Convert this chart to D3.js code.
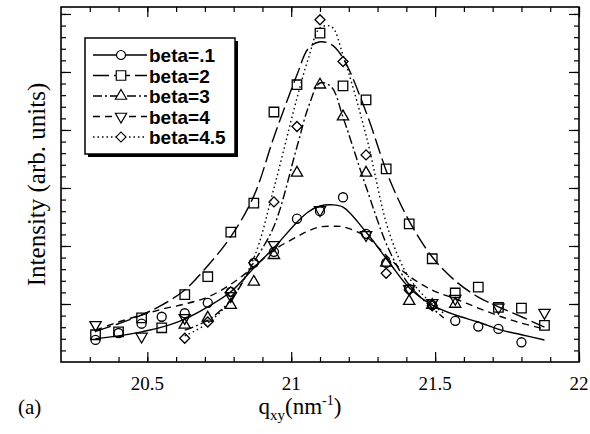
<!DOCTYPE html>
<html>
<head>
<meta charset="utf-8">
<script src="https://cdn.jsdelivr.net/npm/d3@7"></script>
<style>
  body { margin: 0; background: #fff; }
  svg { display: block; }
</style>
</head>
<body>
<div id="chart"></div>
<script>
// measured q positions (nm^-1)
const qValues = [20.32, 20.40, 20.48, 20.55, 20.63, 20.71, 20.79, 20.87, 20.94, 21.02,
  21.10, 21.18, 21.26, 21.33, 21.41, 21.49, 21.57, 21.65, 21.72, 21.80, 21.88];

// measured intensities (arb. units), null where no point
const beta01 = [0.38, 0.50, 0.66, 0.78, 0.84, 1.02, 1.21, 1.71, 1.90, 2.47,
  2.60, 2.84, 2.21, 1.71, 1.26, 0.98, 0.71, 0.61, 0.57, 0.34, null];
const beta2 = [0.47, 0.52, 0.76, 0.59, 1.16, 1.47, 2.24, 2.74, 4.31, 4.78,
  5.67, 4.76, 4.52, 3.33, 2.38, 1.78, 1.19, 1.29, 0.94, 0.93, 0.63];
const beta3 = [null, null, null, null, 0.64, 0.76, 0.98, 1.38, 1.84, 3.26,
  4.78, 4.23, 3.26, 1.71, 1.05, 0.98, 1.00, null, null, null, null];
const beta4 = [0.64, null, 0.44, null, 0.76, null, 1.14, null, 2.02, null,
  2.62, null, 2.19, null, 1.26, 1.02, 1.09, null, 0.94, null, 0.85];
const beta45 = [null, null, null, null, 0.41, 0.69, 1.21, 1.71, 2.76, 4.06,
  5.90, 5.18, 3.57, 1.53, 1.24, 0.97, null, null, null, null, null];

// fitted curves
const fitQ = [20.32, 20.40, 20.48, 20.55, 20.63, 20.71, 20.79, 20.87, 20.94, 21.02, 21.06, 21.10,
  21.14, 21.18, 21.26, 21.34, 21.41, 21.49, 21.57, 21.65, 21.73, 21.80, 21.88];
const fit01 = [0.40, 0.45, 0.52, 0.60, 0.74, 0.95, 1.21, 1.62, 1.97, 2.41, 2.59, 2.69,
  2.71, 2.67, 2.24, 1.72, 1.28, 0.98, 0.81, 0.69, 0.55, 0.47, 0.38];
const fit2 = [0.53, 0.66, 0.81, 0.98, 1.24, 1.66, 2.16, 2.86, 3.88, 4.95, 5.41, 5.52,
  5.47, 5.24, 4.31, 3.17, 2.43, 1.81, 1.40, 1.12, 0.93, 0.78, 0.60];
const fit4 = [0.55, 0.69, 0.81, 0.91, 1.00, 1.12, 1.34, 1.64, 1.93, 2.16, 2.26, 2.33,
  2.34, 2.33, 2.16, 1.79, 1.48, 1.24, 1.09, 0.93, 0.78, 0.67, 0.57];
const fitQNarrow = [20.63, 20.71, 20.79, 20.87, 20.94, 21.02, 21.06, 21.10, 21.14, 21.18,
  21.26, 21.34, 21.41, 21.49, 21.53];
const fit3 = [0.55, 0.72, 1.07, 1.72, 2.34, 3.71, 4.40, 4.81, 4.74, 4.22, 3.02, 1.93, 1.33, 0.93, 0.76];
const fit45 = [0.45, 0.67, 1.07, 1.79, 3.00, 4.55, 5.24, 5.76, 5.78, 5.29, 3.91, 2.24, 1.45, 1.00, 0.84];

const seriesNames = ["beta=.1", "beta=2", "beta=3", "beta=4", "beta=4.5"];
const xTicks = [20.5, 21, 21.5, 22];

const width = 590;
const height = 434;
const margin = { top: 7, right: 11, bottom: 72, left: 61 };
const serif = "'Times New Roman', 'Liberation Serif', 'DejaVu Serif', serif";
const sans = "Arial, 'Liberation Sans', Helvetica, sans-serif";

const series = [
  { name: seriesNames[0], q: qValues, values: beta01, fitQ: fitQ, fit: fit01, symbol: "circle", dash: null },
  { name: seriesNames[1], q: qValues, values: beta2, fitQ: fitQ, fit: fit2, symbol: "square", dash: "16,5" },
  { name: seriesNames[2], q: qValues, values: beta3, fitQ: fitQNarrow, fit: fit3, symbol: "triangle", dash: "9,3,2,3" },
  { name: seriesNames[3], q: qValues, values: beta4, fitQ: fitQ, fit: fit4, symbol: "triangleDown", dash: "7,5" },
  { name: seriesNames[4], q: qValues, values: beta45, fitQ: fitQNarrow, fit: fit45, symbol: "diamond", dash: "1.5,3" },
];

// Scales
const x = d3.scaleLinear()
  .domain([20.2, 22])
  .range([margin.left, width - margin.right]);
const y = d3.scaleLinear()
  .domain([0, 6.12])
  .range([height - margin.bottom, margin.top]);

const svg = d3.select("#chart")
  .append("svg")
  .attr("width", width)
  .attr("height", height);

// Ticks (all pointing inward)
const xMinor = d3.range(20.3, 22.001, 0.1).map((d) => +d.toFixed(1));
const yMinor = d3.range(0.2, 6.1, 0.2).map((d) => +d.toFixed(1));
const yMajor = d3.range(1, 7, 1).filter((d) => d < 6.12);

const axisStyle = (g) => g.call((g) => g.select(".domain").remove())
  .selectAll("line").attr("stroke", "#000").attr("stroke-width", 1.2);

svg.append("g")
  .attr("transform", `translate(0,${height - margin.bottom})`)
  .call(d3.axisBottom(x).tickValues(xMinor).tickSize(-5).tickFormat(""))
  .call(axisStyle);
svg.append("g")
  .attr("transform", `translate(0,${height - margin.bottom})`)
  .call(d3.axisBottom(x).tickValues(xTicks).tickSize(-10).tickFormat(""))
  .call(axisStyle);
svg.append("g")
  .attr("transform", `translate(0,${margin.top})`)
  .call(d3.axisTop(x).tickValues(xMinor).tickSize(-5).tickFormat(""))
  .call(axisStyle);
svg.append("g")
  .attr("transform", `translate(0,${margin.top})`)
  .call(d3.axisTop(x).tickValues(xTicks).tickSize(-10).tickFormat(""))
  .call(axisStyle);

svg.append("g")
  .attr("transform", `translate(${margin.left},0)`)
  .call(d3.axisLeft(y).tickValues(yMinor).tickSize(-5).tickFormat(""))
  .call(axisStyle);
svg.append("g")
  .attr("transform", `translate(${margin.left},0)`)
  .call(d3.axisLeft(y).tickValues(yMajor).tickSize(-10).tickFormat(""))
  .call(axisStyle);
svg.append("g")
  .attr("transform", `translate(${width - margin.right},0)`)
  .call(d3.axisRight(y).tickValues(yMinor).tickSize(-5).tickFormat(""))
  .call(axisStyle);
svg.append("g")
  .attr("transform", `translate(${width - margin.right},0)`)
  .call(d3.axisRight(y).tickValues(yMajor).tickSize(-10).tickFormat(""))
  .call(axisStyle);

// X tick labels
svg.append("g")
  .selectAll("text")
  .data(xTicks)
  .join("text")
  .attr("font-family", serif)
  .attr("font-size", 19)
  .attr("x", (d) => x(d))
  .attr("y", height - margin.bottom + 28)
  .attr("text-anchor", "middle")
  .text((d) => d);

// Frame
svg.append("rect")
  .attr("x", margin.left)
  .attr("y", margin.top)
  .attr("width", width - margin.left - margin.right)
  .attr("height", height - margin.top - margin.bottom)
  .attr("fill", "none")
  .attr("stroke", "#000")
  .attr("stroke-width", 1.6);

// Fit lines
const line = d3.line()
  .x((d) => x(d[0]))
  .y((d) => y(d[1]))
  .curve(d3.curveCatmullRom);

svg.append("g")
  .selectAll("path")
  .data(series)
  .join("path")
  .attr("fill", "none")
  .attr("stroke", "#000")
  .attr("stroke-width", 1.4)
  .attr("stroke-dasharray", (d) => d.dash)
  .attr("d", (d) => line(d.fitQ.map((q, i) => [q, d.fit[i]])));

// Markers
const symbolPath = {
  circle: d3.symbol(d3.symbolCircle, 64)(),
  square: d3.symbol(d3.symbolSquare, 90)(),
  triangle: d3.symbol(d3.symbolTriangle, 55)(),
  triangleDown: d3.symbol(d3.symbolTriangle, 55)(),
  diamond: d3.symbol(d3.symbolSquare, 50)(),
};
const symbolRotate = { circle: 0, square: 0, triangle: 0, triangleDown: 180, diamond: 45 };

const gPoints = svg.append("g");
series.forEach((s) => {
  const pts = s.q.map((q, i) => ({ q: q, v: s.values[i] })).filter((d) => d.v !== null);
  gPoints.append("g")
    .selectAll("path")
    .data(pts)
    .join("path")
    .attr("transform", (d) => `translate(${x(d.q)},${y(d.v)}) rotate(${symbolRotate[s.symbol]})`)
    .attr("d", symbolPath[s.symbol])
    .attr("fill", "none")
    .attr("stroke", "#000")
    .attr("stroke-width", 1.3);
});

// Legend
const legend = svg.append("g").attr("transform", "translate(85,38)");
legend.append("rect")
  .attr("x", 3).attr("y", 3)
  .attr("width", 150).attr("height", 116)
  .attr("fill", "#000");
legend.append("rect")
  .attr("width", 150).attr("height", 116)
  .attr("fill", "#fff")
  .attr("stroke", "#000")
  .attr("stroke-width", 1.5);

const legendItem = legend.selectAll(".item")
  .data(series)
  .join("g")
  .attr("class", "item")
  .attr("transform", (d, i) => `translate(0,${17 + i * 20.5})`);
legendItem.append("line")
  .attr("x1", 8).attr("x2", 62)
  .attr("stroke", "#000")
  .attr("stroke-width", 1.4)
  .attr("stroke-dasharray", (d) => d.dash);
legendItem.append("path")
  .attr("transform", (d) => `translate(36,0) rotate(${symbolRotate[d.symbol]})`)
  .attr("d", (d) => symbolPath[d.symbol])
  .attr("fill", "#fff")
  .attr("stroke", "#000")
  .attr("stroke-width", 1.2);
legendItem.append("text")
  .attr("font-family", sans)
  .attr("font-size", 19)
  .attr("font-weight", "bold")
  .attr("x", 64)
  .attr("y", 7)
  .text((d) => d.name);

// Axis titles
svg.append("text")
  .attr("font-family", serif)
  .attr("font-size", 25)
  .attr("transform", `translate(45,${(margin.top + height - margin.bottom) / 2}) rotate(-90)`)
  .attr("text-anchor", "middle")
  .text("Intensity (arb. units)");

const xTitle = svg.append("text")
  .attr("font-family", serif)
  .attr("font-size", 23)
  .attr("x", 300)
  .attr("y", 414)
  .attr("text-anchor", "middle");
xTitle.append("tspan").text("q");
xTitle.append("tspan").attr("font-size", 15).attr("dy", 6).text("xy");
xTitle.append("tspan").attr("dy", -6).text("(nm");
xTitle.append("tspan").attr("font-size", 14).attr("dy", -9).text("-1");
xTitle.append("tspan").attr("dy", 9).text(")");

svg.append("text")
  .attr("font-family", serif)
  .attr("font-size", 21)
  .attr("x", 18)
  .attr("y", 414)
  .text("(a)");
</script>
</body>
</html>
